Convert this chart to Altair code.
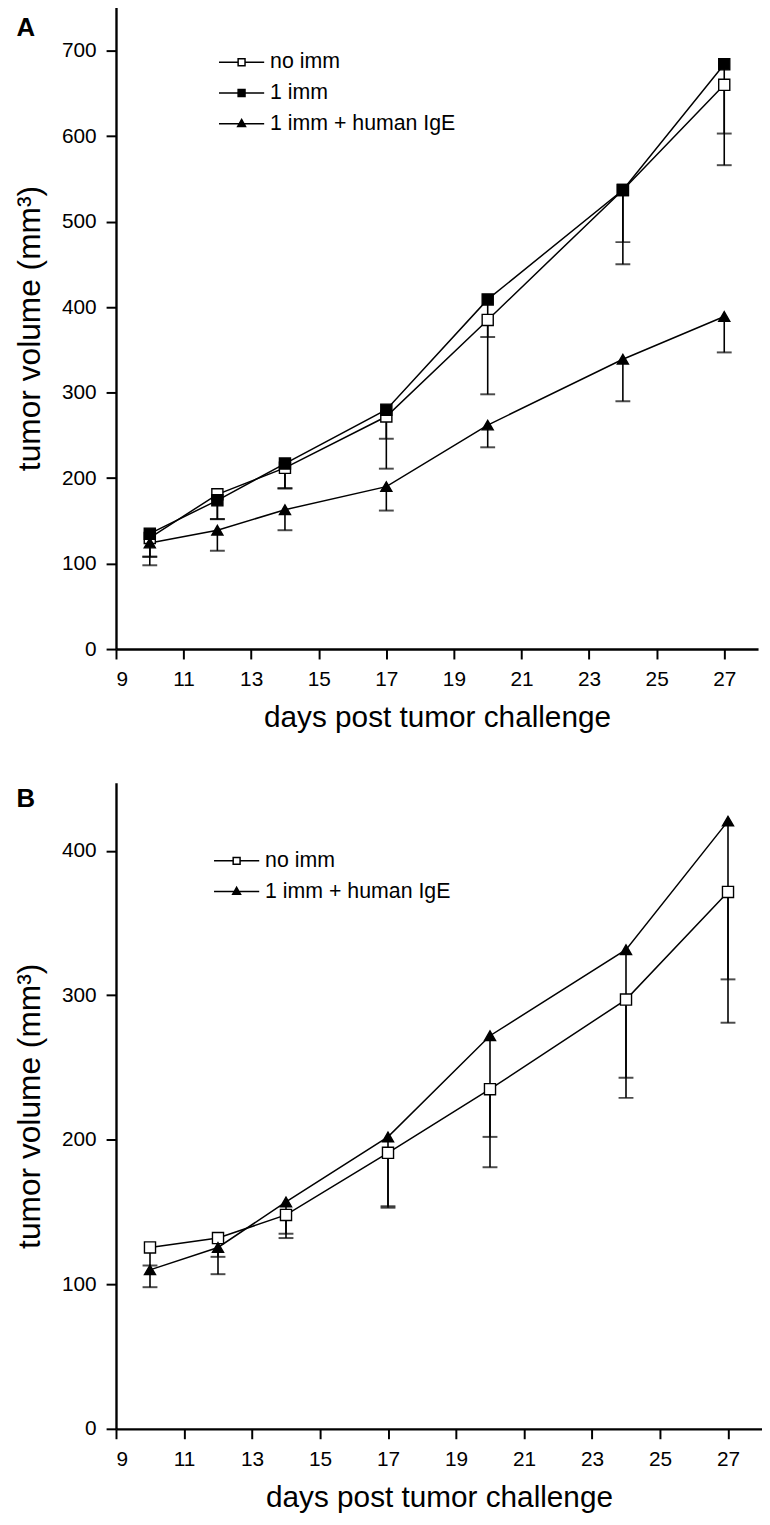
import altair as alt
import pandas as pd

FONT = "Liberation Sans"

days = [10, 12, 14, 17, 20, 24, 27]
x_ticks = [9, 11, 13, 15, 17, 19, 21, 23, 25, 27]

# Panel A
a_series = ["no imm", "1 imm", "1 imm + human IgE"]
a_noimm = [130, 181, 212, 272, 385, 537, 660]
a_noimm_low = [108, 152, 188, 246, 365, 476, 603]
a_1imm = [135, 174, 217, 280, 409, 537, 684]
a_1imm_low = [108, 152, 188, 211, 298, 450, 566]
a_ige = [124, 139, 163, 190, 262, 339, 389]
a_ige_low = [98, 115, 139, 162, 236, 290, 347]
a_yticks = [0, 100, 200, 300, 400, 500, 600, 700]

# Panel B
b_series = ["no imm", "1 imm + human IgE"]
b_noimm = [125.5, 132, 148, 191, 235, 297, 371.5]
b_noimm_low = [113, 119, 135, 154, 202, 243, 311]
b_ige = [110, 125.5, 157, 202, 272, 331.5, 420.5]
b_ige_low = [98, 107, 132, 153, 181, 229, 281]
b_yticks = [0, 100, 200, 300, 400]

SHAPE = {"no imm": "square", "1 imm": "square", "1 imm + human IgE": "triangle-up"}
FILL = {"no imm": "white", "1 imm": "black", "1 imm + human IgE": "black"}
LEG_PATH = {
    "no imm": "M-3.8,0H-0.58M0.58,0H3.8M-0.58,-0.58H0.58V0.58H-0.58Z",
    "1 imm": "M-3.8,0H3.8M-0.58,-0.58H0.58V0.58H-0.58Z",
    "1 imm + human IgE": "M-3.8,0H3.8M0,-0.72L0.66,0.46H-0.66Z",
}


def long_df(names, vals, lows):
    rows = []
    for n, v, lo in zip(names, vals, lows):
        for d, vv, ll in zip(days, v, lo):
            rows.append({"day": d, "series": n, "value": vv, "low": ll})
    return pd.DataFrame(rows)


def panel(df, order, ymax, yticks, width, height, letter, lx, ly, ty):
    xscale = alt.Scale(domain=[9, 28], nice=False, zero=False)
    yscale = alt.Scale(domain=[0, ymax], nice=False)
    xaxis = alt.Axis(values=x_ticks, title="days post tumor challenge")
    yaxis = alt.Axis(values=yticks, title="tumor volume (mm³)")
    x = alt.X("day:Q", scale=xscale, axis=xaxis)
    y = alt.Y("value:Q", scale=yscale, axis=yaxis)
    base = alt.Chart(df)
    rules = base.mark_rule(color="black", strokeWidth=1.6).encode(
        x=x, y=y, y2="low:Q")
    caps = base.mark_tick(color="black", orient="horizontal", size=15,
                          thickness=2).encode(
        x=x, y=alt.Y("low:Q", scale=yscale, axis=yaxis))
    lines = base.mark_line(color="black", strokeWidth=1.5).encode(
        x=x, y=y, detail="series:N")
    shape_sc = alt.Scale(domain=order, range=[SHAPE[s] for s in order])
    fill_sc = alt.Scale(domain=order, range=[FILL[s] for s in order])
    points = base.mark_point(filled=True, stroke="black", strokeWidth=1.4,
                             opacity=1).encode(
        x=x, y=y,
        shape=alt.Shape("series:N", scale=shape_sc, legend=None),
        fill=alt.Fill("series:N", scale=fill_sc, legend=None),
        size=alt.value(125))
    leg = alt.Legend(orient="none", legendX=lx, legendY=ly, title=None,
                     symbolSize=144, symbolStrokeWidth=1.5,
                     symbolStrokeColor="black", symbolOpacity=1,
                     labelFont=FONT, labelFontSize=21.5, labelColor="black",
                     labelOffset=18, rowPadding=8, padding=0,
                     labelLimit=400)
    leg_shape = alt.Scale(domain=order, range=[LEG_PATH[s] for s in order])
    stroke_sc = alt.Scale(domain=order, range=["black"] * len(order))
    legend_layer = base.transform_filter("false").mark_point(
        filled=True, strokeWidth=1.5).encode(
        x=x, y=y,
        shape=alt.Shape("series:N", scale=leg_shape, legend=leg),
        fill=alt.Fill("series:N", scale=fill_sc, legend=leg),
        stroke=alt.Stroke("series:N", scale=stroke_sc, legend=leg))
    txt = alt.Chart(pd.DataFrame({"t": [letter]})).mark_text(
        font=FONT, fontSize=26, fontWeight="bold", align="center",
        baseline="top", color="black").encode(
        text="t:N", x=alt.value(-91), y=alt.value(ty))
    return alt.layer(rules, caps, lines, points, legend_layer, txt).resolve_scale(
        shape="independent", fill="independent", stroke="independent").properties(
        width=width, height=height)


dfA = long_df(a_series, [a_noimm, a_1imm, a_ige], [a_noimm_low, a_1imm_low, a_ige_low])
dfB = long_df(b_series, [b_noimm, b_ige], [b_noimm_low, b_ige_low])

A = panel(dfA, a_series, 751, a_yticks, 648, 648, "A", 116, 45, 8)
B = panel(dfB, b_series, 447, b_yticks, 652, 652, "B", 111, 68, 3)

chart = alt.vconcat(A, B, spacing=51).properties(
    padding={"left": 5, "top": -8, "right": 0, "bottom": 0}
).configure_view(stroke=None).configure_axis(
    grid=False, domainColor="black", domainWidth=2.4, tickColor="black",
    tickWidth=2, tickSize=10, labelFont=FONT, labelFontSize=21,
    labelColor="black", labelPadding=10, titleFont=FONT, titleFontSize=30,
    titleFontWeight="normal", titleColor="black"
).configure_axisY(titlePadding=15, titleFontSize=32).configure_axisX(titlePadding=13)

chart.save("out.html", embed_options={"renderer": "svg", "actions": False})
